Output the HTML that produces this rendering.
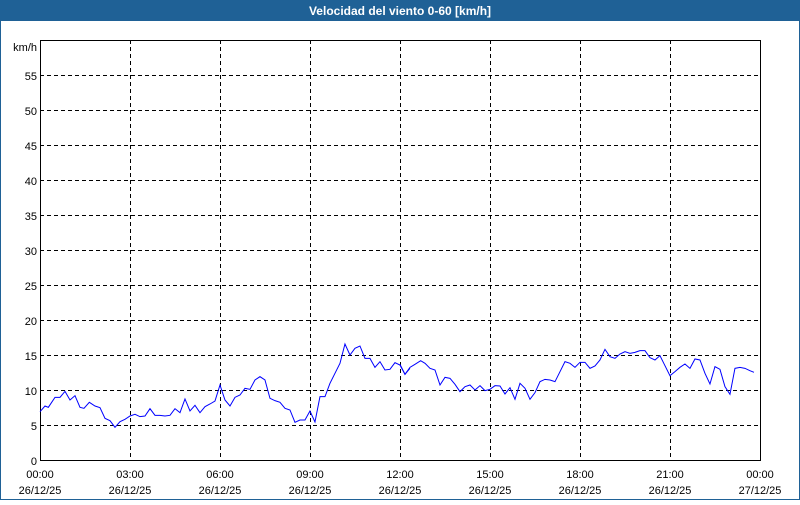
<!DOCTYPE html>
<html><head><style>
body{margin:0;width:800px;height:500px;overflow:hidden;background:#fff;font-family:"Liberation Sans",sans-serif}
</style></head><body>
<svg width="800" height="500" xmlns="http://www.w3.org/2000/svg" font-family="Liberation Sans, sans-serif" font-size="11">
<rect x="0" y="0" width="800" height="500" fill="#fff"/>
<rect x="0" y="0" width="800" height="21" fill="#1f6196"/>
<rect x="0.5" y="0.5" width="799" height="499" fill="none" stroke="#1f6196"/>
<text x="400" y="15" text-anchor="middle" fill="#fff" font-weight="bold" font-size="12">Velocidad del viento 0-60 [km/h]</text>
<g stroke="#000" stroke-dasharray="4,3" stroke-width="1">
<line x1="40" x2="760" y1="425.5" y2="425.5"/><line x1="40" x2="760" y1="390.5" y2="390.5"/>
<line x1="40" x2="760" y1="355.5" y2="355.5"/><line x1="40" x2="760" y1="320.5" y2="320.5"/>
<line x1="40" x2="760" y1="285.5" y2="285.5"/><line x1="40" x2="760" y1="250.5" y2="250.5"/>
<line x1="40" x2="760" y1="215.5" y2="215.5"/><line x1="40" x2="760" y1="180.5" y2="180.5"/>
<line x1="40" x2="760" y1="145.5" y2="145.5"/><line x1="40" x2="760" y1="110.5" y2="110.5"/>
<line x1="40" x2="760" y1="75.5" y2="75.5"/>
<line x1="130.5" x2="130.5" y1="40" y2="460"/><line x1="220.5" x2="220.5" y1="40" y2="460"/>
<line x1="310.5" x2="310.5" y1="40" y2="460"/><line x1="400.5" x2="400.5" y1="40" y2="460"/>
<line x1="490.5" x2="490.5" y1="40" y2="460"/><line x1="580.5" x2="580.5" y1="40" y2="460"/>
<line x1="670.5" x2="670.5" y1="40" y2="460"/>
</g>
<rect x="40.5" y="40.5" width="720" height="420" fill="none" stroke="#000"/>
<g fill="none" stroke="#0000ff" stroke-width="3">
<polyline transform="translate(30,330) scale(0.3333)" points="30,245 45,228 55,232 75,202 90,202 105,184 120,210 135,197 150,232 162,235 178,217 195,228 210,233 225,265 240,272 255,292 270,275 285,268 300,258 315,253 330,260 345,258 360,236 375,256 390,256 405,258 420,256 435,236 450,248 465,207 480,243 495,226 510,248 525,230 540,222 555,213 570,165 585,210 600,228 615,202 630,195 645,175 660,178 675,150 690,140 705,150 720,205 735,212 750,217 765,235 780,240 795,277 810,270 825,270 840,243 855,276 870,200 885,200 900,160 915,130 930,100 945,42 960,75 975,55 990,48 1005,85 1020,85 1035,112 1050,95 1065,120 1080,118 1095,98 1110,105 1125,133 1140,115"/>
<polyline transform="translate(400,330) scale(0.3333)" points="-0,103 15,133 30,112 45,103 62,92 75,100 90,115 105,120 120,165 135,142 150,145 165,163 180,185 195,170 210,165 225,180 240,167 255,182 270,178 285,167 300,168 315,192 330,173 345,208 360,160 375,175 390,208 405,188 420,155 435,148 450,150 465,155 480,125 495,95 510,100 525,112 540,97 555,97 570,115 585,108 600,90 615,58 630,80 645,85 660,72 675,65 690,70 705,67 720,62 735,62 750,83 765,90 780,77 795,107 810,137 825,125 840,112 855,102 870,115 885,87 900,90 915,130 930,162 945,110 960,118 975,170 990,193 1005,115 1020,112 1035,115 1050,122 1062,127"/>
</g>
<g fill="#000" text-anchor="end">
<text x="37" y="51">km/h</text>
<text x="37" y="80">55</text><text x="37" y="115">50</text><text x="37" y="150">45</text>
<text x="37" y="185">40</text><text x="37" y="220">35</text><text x="37" y="255">30</text>
<text x="37" y="290">25</text><text x="37" y="325">20</text><text x="37" y="360">15</text>
<text x="37" y="395">10</text><text x="37" y="430">5</text><text x="37" y="465">0</text>
</g>
<g fill="#000" text-anchor="middle">
<text x="40" y="478">00:00</text><text x="130" y="478">03:00</text><text x="220" y="478">06:00</text>
<text x="310" y="478">09:00</text><text x="400" y="478">12:00</text><text x="490" y="478">15:00</text>
<text x="580" y="478">18:00</text><text x="670" y="478">21:00</text><text x="760" y="478">00:00</text>
<text x="40" y="494">26/12/25</text><text x="130" y="494">26/12/25</text><text x="220" y="494">26/12/25</text>
<text x="310" y="494">26/12/25</text><text x="400" y="494">26/12/25</text><text x="490" y="494">26/12/25</text>
<text x="580" y="494">26/12/25</text><text x="670" y="494">26/12/25</text><text x="760" y="494">27/12/25</text>
</g>
</svg>
</body></html>
